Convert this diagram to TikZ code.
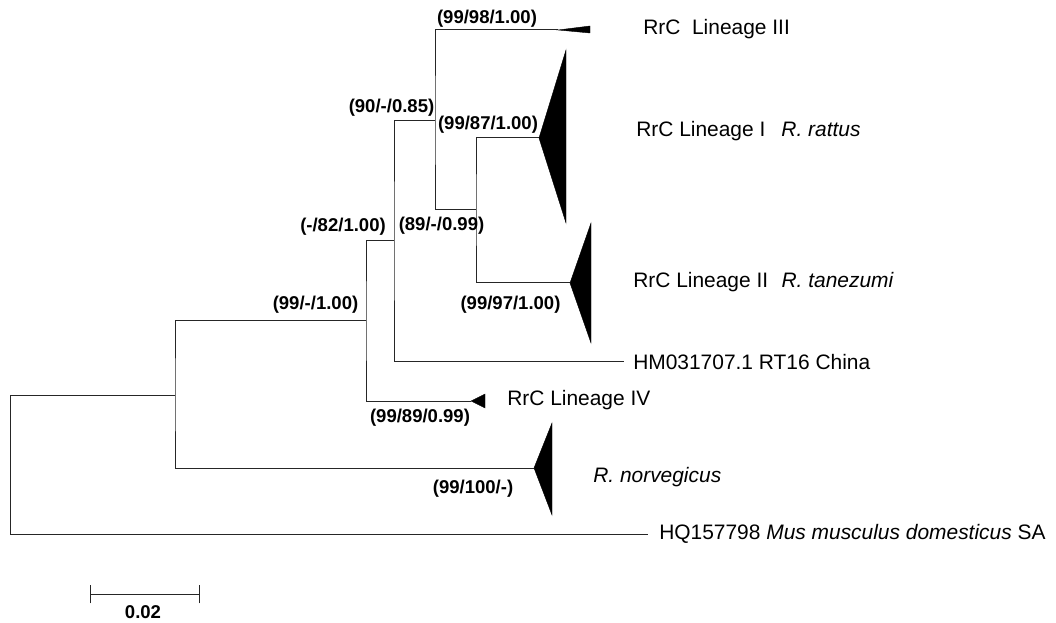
\documentclass[tikz,border=0pt]{standalone}
\usepackage{fontspec}
\setmainfont{Liberation Sans}
\begin{document}
\begin{tikzpicture}[x=0.75pt,y=-0.75pt,
  branch/.style={draw=black!85,line width=0.75pt},
  clade/.style={fill=black,draw=black,line width=0.3pt},
  leaf/.style={anchor=west,inner sep=0pt,font=\fontsize{15.7pt}{18pt}\selectfont},
  support/.style={inner sep=0pt,font=\fontsize{13.9pt}{16pt}\selectfont\bfseries}]
\useasboundingbox (0,0) rectangle (1056,623);
% internal nodes (attachment points)
\coordinate (R) at (10,395);
\coordinate (A) at (175,395);
\coordinate (B) at (366,321);
\coordinate (C) at (394,241);
\coordinate (D) at (435,121);
\coordinate (E) at (476,210);
% leaf tips
\coordinate (L3) at (558,30);
\coordinate (L1) at (539,138);
\coordinate (L2) at (570,283);
\coordinate (IV) at (471,401);
\coordinate (NO) at (534,468);
% leaf labels
\node[leaf] (HMlab) at (633,362) {HM031707.1 RT16 China};
\node[leaf] (HQlab) at (659,534) {HQ157798 \textit{Mus musculus domesticus} SA};
\node[leaf] (L3lab) at (643,29) {RrC\ \ Lineage III};
\node[leaf] (L1lab) at (636,131) {RrC Lineage I\hspace{12pt}\textit{R. rattus}};
\node[leaf] (L2lab) at (633,282) {RrC Lineage II\hspace{10pt}\textit{R. tanezumi}};
\node[leaf] (IVlab) at (507,400) {RrC Lineage IV};
\node[leaf] (NOlab) at (593,477) {\textit{R. norvegicus}};
\coordinate (HM) at ([xshift=-7]HMlab.west);
\coordinate (HQ) at ([xshift=-8]HQlab.west);
% branches
\draw[branch] (L1) -| (E) |- (L2);
\draw[branch] (L3) -| (D) |- (E);
\draw[branch] (D) -| (C) |- (HM);
\draw[branch] (C) -| (B) |- (IV);
\draw[branch] (B) -| (A) |- (NO);
\draw[branch] (A) -| (R) |- (HQ);
% collapsed clades
\path[clade] (L3) -- (590,26) -- (590,33) -- cycle;
\path[clade] (L1) -- (566,50) -- (566,223) -- cycle;
\path[clade] (L2) -- (591,223) -- (591,343) -- cycle;
\path[clade] (IV) -- (485,394) -- (485,408) -- cycle;
\path[clade] (NO) -- (552,423) -- (552,515) -- cycle;
% support values
\node[support] (s1) at (487,19) {(99/98/1.00)};
\node[support] (s2) at (391.5,108) {(90/-/0.85)};
\node[support] (s3) at (488,125) {(99/87/1.00)};
\node[support] (s4) at (441.5,226) {(89/-/0.99)};
\node[support] (s5) at (343,227) {(-/82/1.00)};
\node[support] (s6) at (510.5,305) {(99/97/1.00)};
\node[support] (s7) at (315.5,305) {(99/-/1.00)};
\node[support] (s8) at (420,418) {(99/89/0.99)};
\node[support] (s9) at (473,489) {(99/100/-)};
% scale bar
\coordinate (sb1) at (90,594);
\coordinate (sb2) at (199,594);
\draw[branch] (sb1) -- (sb2);
\draw[branch] ([yshift=-7]sb1) -- ([yshift=7]sb1);
\draw[branch] ([yshift=-7]sb2) -- ([yshift=7]sb2);
\node[support] (sblab) at (143,612) {0.02};
\end{tikzpicture}
\end{document}
